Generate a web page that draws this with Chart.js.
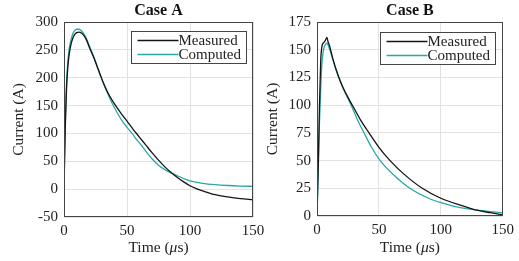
<!DOCTYPE html>
<html><head><meta charset="utf-8">
<script src="https://cdn.jsdelivr.net/npm/chart.js@4"></script>
<style>
html,body{margin:0;padding:0;background:#fff;width:519px;height:261px;overflow:hidden;position:relative}
canvas{position:absolute;top:0}
#cA{left:0}
#cB{left:259px}
</style></head>
<body>
<canvas id="cA" width="272" height="261"></canvas>
<canvas id="cB" width="260" height="261"></canvas>
<script>
// ---- Case A data ----
const timeMeasA = [0,1,2,3,4,5,6,7,8,10,12,14,16,18,20,22,24,26,29,32,36,41,45,50,55,60,65,70,75,80,85,90,95,100,105,110,120,130,140,150];
const valMeasA  = [0,110,180,218,240,254,264,271,276,281,282,280,275,267,255,245,234,222,204,187,168,150,137,122,107,93,79,65,52,40,30,21,13,6,1,-3,-10,-14,-17,-19];
const timeCompA = [0,1,2,3,4,5,6,7,8,10,12,14,16,18,20,22,25,28.5,33,38,42,46,50,54,58,62,66,70,75,80,85,90,95,100,110,120,130,140,150];
const valCompA  = [0,120,190,228,250,263,272,279,283,287,287,284,278,269,258,247,229,206,180,155,138,123,111,100,88,77,65,54,43,35,29,24,19,15,10.5,8,6.5,5.5,5];
// ---- Case B data ----
const timeMeasB = [0,1,2,3,4,5,6,7,8,9,10,13,17,21,25,29,35,42,50,59,70,85,100,115,130,140,150];
const valMeasB  = [0,45,100,140,153,156,157,159,161,157,154,141,127,116,107,99,87,75,62,50,38,25,16,10,5,3,1];
const timeCompB = [0,1,2,3,4,5,6,7,8,9,10,12,15,20,27.6,33,38,44,51,62,75,90,100,110,125,140,150];
const valCompB  = [0,40,85,115,138,148,153,155,156,154,151,144,133,118,100,86,75,62,50,37,25,16,12,9,6,4,3];

const seriesLabels = ['Measured','Computed'];
const xTicks = [0,50,100,150];
const xTitleParts = [['Time (', false], ['μ', true], ['s)', false]];

const FONT = "'Liberation Serif','Times New Roman',serif";
const TXT = '#222';
const C_MEAS = '#141414';
const C_COMP = '#2aa7a7';

function pts(t, v){ return t.map((x,i)=>({x:x,y:v[i]})); }

const framePlugin = {
  id:'frame',
  afterDatasetsDraw(chart){
    const a = chart.chartArea, ctx = chart.ctx;
    ctx.save();
    ctx.strokeStyle = '#444'; ctx.lineWidth = 1;
    ctx.strokeRect(Math.round(a.left)+0.5, Math.round(a.top)+0.5, Math.round(a.right-a.left)-1, Math.round(a.bottom-a.top)-1);
    // legend
    const o = chart.options.plugins.boxLegend;
    ctx.font = '15px ' + FONT;
    const tw = Math.max(...chart.data.datasets.map(d=>ctx.measureText(d.label).width));
    const w = Math.round(6 + 41 + tw + 6), h = 32;
    const x0 = Math.round(a.right - o.right - w) + 0.5, y0 = Math.round(a.top + o.top) + 0.5;
    ctx.fillStyle = '#fff';
    ctx.fillRect(x0, y0, w, h);
    ctx.strokeStyle = '#444';
    ctx.strokeRect(x0, y0, w, h);
    chart.data.datasets.forEach((d,i)=>{
      const yy = y0 + 9 + i*14;
      ctx.strokeStyle = d.borderColor; ctx.lineWidth = 1.3;
      ctx.beginPath(); ctx.moveTo(x0+6, yy); ctx.lineTo(x0+47, yy); ctx.stroke();
      ctx.fillStyle = TXT; ctx.textBaseline = 'middle'; ctx.textAlign = 'left';
      ctx.fillText(d.label, x0+47, yy+1);
    });
    // x axis title with italic mu
    const fs = 15.5, cy = chart.height - 4 - fs*1.2/2;
    const fonts = xTitleParts.map(p => (p[1] ? 'italic ' : '') + fs + 'px ' + FONT);
    let total = 0;
    xTitleParts.forEach((p,i)=>{ ctx.font = fonts[i]; total += ctx.measureText(p[0]).width; });
    let x = (a.left + a.right)/2 - total/2;
    ctx.fillStyle = TXT; ctx.textBaseline = 'middle'; ctx.textAlign = 'left';
    xTitleParts.forEach((p,i)=>{ ctx.font = fonts[i]; ctx.fillText(p[0], x, cy); x += ctx.measureText(p[0]).width; });
    ctx.restore();
  }
};

function makeChart(id, title, tm, vm, tc, vc, yMin, yMax, yStep, yWidth, yTitlePad, padRight, xHeight, legTop, legRight){
  return new Chart(document.getElementById(id), {
    type:'line',
    data:{datasets:[
      {label:seriesLabels[0], data:pts(tm,vm), borderColor:C_MEAS, borderWidth:1.3, pointRadius:0, cubicInterpolationMode:'monotone', fill:false},
      {label:seriesLabels[1], data:pts(tc,vc), borderColor:C_COMP, borderWidth:1.3, pointRadius:0, cubicInterpolationMode:'monotone', fill:false}
    ]},
    options:{
      responsive:false, animation:false, devicePixelRatio:1,
      layout:{padding:{left:0, right:padRight, top:0, bottom:0}},
      plugins:{
        legend:{display:false}, tooltip:{enabled:false},
        title:{display:true, text:title, fullSize:false, color:'#111', font:{family:FONT, size:16, weight:'bold', lineHeight:1.2}, padding:{top:1,bottom:1.8}},
        boxLegend:{top:legTop, right:legRight}
      },
      scales:{
        x:{type:'linear', min:0, max:150,
           afterBuildTicks(s){ s.ticks = xTicks.map(v=>({value:v})); },
           afterFit(s){ s.height = xHeight; },
           grid:{color:'#e2e2e2', drawTicks:false, lineWidth:1},
           border:{display:false},
           ticks:{color:TXT, font:{family:FONT, size:15}, padding:5, maxRotation:0, autoSkip:false},
           title:{display:false}
        },
        y:{type:'linear', min:yMin, max:yMax,
           ticks:{stepSize:yStep, color:TXT, font:{family:FONT, size:15}, padding:6},
           afterFit(s){ s.width = yWidth; },
           grid:{color:'#e2e2e2', drawTicks:false, lineWidth:1},
           border:{display:false},
           title:{display:true, text:'Current (A)', color:TXT, font:{family:FONT, size:15.5, lineHeight:1.2}, padding:{top:yTitlePad,bottom:0}}
        }
      }
    },
    plugins:[framePlugin]
  });
}

makeChart('cA','Case A', timeMeasA, valMeasA, timeCompA, valCompA, -50, 300, 50, 64, 10, 272-253, 44, 9, 7);
makeChart('cB','Case B', timeMeasB, valMeasB, timeCompB, valCompB, 0, 175, 25, 58, 5, 260-506+259, 45, 10, 8);
</script>
</body></html>
